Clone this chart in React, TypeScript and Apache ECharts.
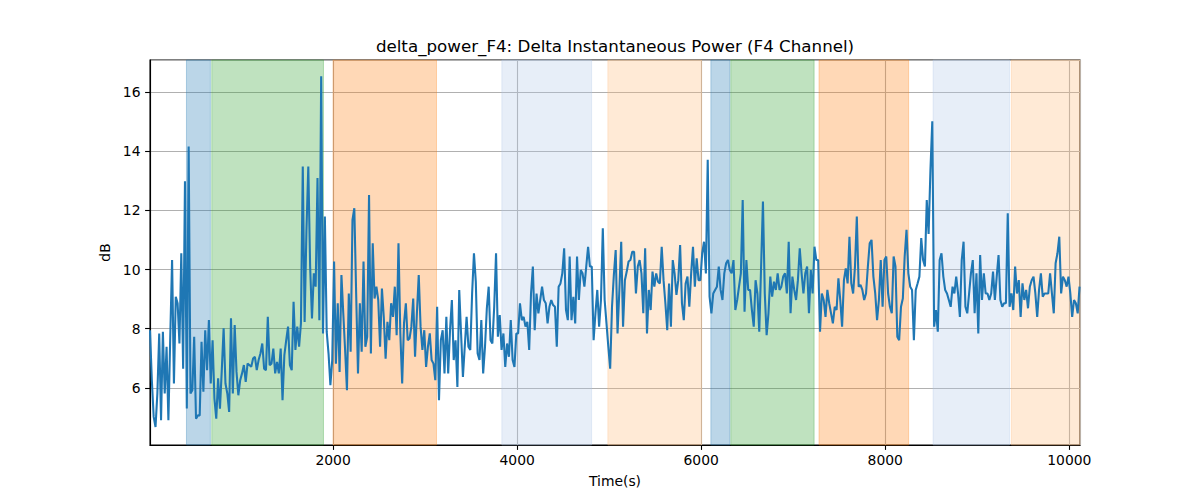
import React, { useEffect, useRef } from "react";
import * as echarts from "echarts";

const TITLE = "delta_power_F4: Delta Instantaneous Power (F4 Channel)";
const X_NAME = "Time(s)";
const Y_NAME = "dB";

const T_START = 11;
const T_STEP = 20;
const X_MIN = 11;
const X_MAX = 10116;
const Y_MIN = 4.07;
const Y_MAX = 17.08;

const seg1 = [
  7.95, 6.26, 5.02, 4.68, 5.81, 7.84, 4.91, 7.9, 5.81, 7.39,
  4.91, 7.73, 10.32, 6.15, 9.08, 8.86, 7.5, 10.55, 6.65, 12.98,
  5.3, 14.16, 5.81, 5.92, 7.73, 4.96, 5.07, 5.07, 7.56, 5.87,
  7.95, 6.6, 8.29, 6.15, 7.61, 5.64, 4.96, 6.32, 5.3, 6.6,
  8.01, 6.15, 5.81, 5.19, 8.35, 5.81, 8.12, 6.54, 5.75, 6.26,
  6.49, 6.77, 6.2, 6.82, 6.77, 6.71, 6.99, 7.05, 6.6, 6.94,
  7.16, 7.5, 6.65, 6.6, 8.4, 6.77, 6.82, 7.33, 6.49, 6.88,
  6.49, 7.33, 5.58, 7.11, 7.61, 8.07, 6.77, 6.6, 8.91, 7.28,
  8.07, 7.39, 8.18, 13.48, 8.23, 11.34, 13.48,
];
const seg2 = [
  10.1, 8.35, 9.87, 9.42, 13.09, 8.29, 16.53, 7.84, 11.79, 7.9,
  7.16, 6.09, 6.94, 10.27, 6.82, 8.86, 6.54, 9.81, 8.52, 7.28,
  5.92, 9.19, 7.22, 11.68, 12.07, 9.19, 6.49, 8.86, 7.22, 10.27,
  7.39, 7.73, 12.52, 7.16, 10.89, 9.02, 9.42, 8.97, 7.39, 9.36,
  8.4, 6.99, 8.23, 7.61, 8.86, 8.4, 9.42, 7.78, 10.89, 7.84,
  6.15, 8.18, 8.86, 7.61, 7.67, 8.07, 9.02, 7.05, 8.52, 9.81,
  8.07, 7.28, 7.95, 6.71, 7.39, 7.84, 6.94, 6.82, 6.26, 8.74,
  5.58, 7.61, 7.95, 6.49, 8.4, 6.49, 7.95, 8.97, 6.94, 7.61,
  6.03, 9.31, 7.84, 6.37, 7.39, 8.4, 7.39,
];
const seg3 = [
  7.28, 9.19, 10.55, 9.59, 7.16, 6.94, 8.29, 6.49, 7.39, 8.69,
  9.42, 7.61, 7.5, 8.74, 10.55, 7.73, 8.46, 7.28, 7.84, 6.71,
  7.5, 7.05, 8.29, 6.94, 6.71, 7.84, 7.84, 8.86, 8.29, 8.4,
  8.07, 8.23, 7.28, 9.19, 10.1, 7.95, 9.19, 8.52, 8.97, 9.42,
  8.97, 8.86, 8.18, 8.74, 8.97, 8.8, 8.74, 7.39, 9.42, 9.53,
  9.87, 10.72, 8.63, 8.29, 10.44, 8.29, 9.08, 8.18, 10.44, 8.97,
  9.98, 9.87, 9.42, 10.1, 10.77, 10.1, 10.1, 7.61, 8.52, 9.31,
  8.07, 8.97, 11.39, 8.97, 8.18, 7.39, 6.65, 8.74, 9.81, 10.66,
  7.84, 9.31, 10.94, 8.07, 9.64, 9.93, 10.27,
];
const seg4 = [
  10.32, 10.6, 10.6, 9.19, 10.1, 10.32, 9.87, 8.52, 10.72, 7.84,
  9.31, 8.63, 9.93, 9.42, 9.87, 9.59, 9.53, 10.77, 9.64, 8.86,
  7.95, 9.53, 8.07, 10.32, 9.87, 9.14, 9.64, 10.83, 8.86, 8.29,
  9.53, 9.76, 8.74, 9.87, 10.77, 9.42, 10.38, 9.64, 9.64, 10.55,
  10.94, 9.87, 13.71, 9.08, 8.52, 9.19, 9.31, 9.42, 10.1, 9.31,
  8.97, 9.87, 10.21, 10.32, 9.98, 9.87, 10.32, 8.63, 8.97, 9.42,
  9.87, 12.35, 8.57, 10.32, 9.31, 9.31, 8.63, 8.07, 9.64, 9.19,
  7.9, 10.1, 12.3, 9.19, 7.78, 8.52, 9.76, 9.08, 9.59, 9.31,
  9.87, 9.31, 9.42, 9.76, 9.87, 9.19, 10.94,
];
const seg5 = [
  8.52, 9.76, 9.31, 8.97, 9.64, 10.72, 9.87, 9.19, 9.87, 10.1,
  8.52, 9.98, 9.19, 10.77, 10.32, 10.32, 7.9, 9.19, 8.97, 8.4,
  9.31, 8.86, 8.52, 8.18, 8.74, 8.63, 9.7, 8.97, 8.07, 9.64,
  10.04, 9.53, 11.11, 9.53, 9.19, 10.1, 11.79, 9.42, 9.48, 9.31,
  8.97, 9.19, 10.1, 10.89, 11.0, 9.76, 9.19, 8.29, 8.97, 10.32,
  8.74, 10.32, 10.44, 9.19, 8.74, 8.52, 10.44, 10.1, 7.73, 7.61,
  8.74, 9.02, 10.44, 11.34, 9.87, 9.42, 9.31, 7.61, 9.31, 9.53,
  9.76, 11.06, 10.32, 10.1, 12.35, 11.2, 13.37, 15.01, 8.07, 8.63,
  7.9, 10.32, 10.55, 9.76, 9.31, 9.19, 8.97,
];
const seg6 = [
  8.74, 9.42, 9.19, 9.76, 9.19, 8.4, 10.32, 10.94, 8.74, 8.52,
  9.19, 9.87, 10.32, 8.52, 9.87, 7.84, 10.49, 8.97, 9.87, 9.19,
  9.19, 8.97, 9.19, 9.93, 8.97, 9.76, 10.49, 8.97, 8.74, 8.86,
  8.86, 11.9, 8.74, 9.19, 8.63, 10.1, 9.19, 9.64, 8.4, 9.53,
  8.97, 9.31, 8.69, 9.42, 9.64, 9.76, 9.19, 8.4, 9.31, 9.87,
  9.08, 9.19, 9.19, 9.19, 9.87, 9.19, 8.52, 10.21, 10.55, 11.11,
  9.19, 9.76, 9.64, 9.42, 9.76, 9.19, 8.4, 8.97, 8.86, 8.52,
  9.42,
];

const values = [...seg1, ...seg2, ...seg3, ...seg4, ...seg5, ...seg6];

const spansBlue = [[407, 667], [6105, 6312]];
const spansGreen = [[682, 1896], [6322, 7227]];
const spansOrange = [[2000, 3124], [7280, 8254]];
const spansLightBlue = [[3834, 4809], [8520, 9350]];
const spansLightOrange = [[4986, 6004], [9370, 10116]];

const FONT = "DejaVu Sans";

export default function App() {
  const ref = useRef<HTMLDivElement>(null);
  useEffect(() => {
    if (!ref.current) return;
    const chart = echarts.init(ref.current, undefined, { renderer: "svg" });
    const lineData = values.map((v, i) => [T_START + i * T_STEP, v]);
    const mk = (spans: number[][], color: string) =>
      spans.map(([a, b]) => [
        { xAxis: a, itemStyle: { color, borderColor: color, borderWidth: 1 } },
        { xAxis: b },
      ]);
    const areas = [
      ...mk(spansBlue, "rgba(31,119,180,0.3)"),
      ...mk(spansGreen, "rgba(44,160,44,0.3)"),
      ...mk(spansOrange, "rgba(255,127,14,0.3)"),
      ...mk(spansLightBlue, "rgba(174,199,232,0.3)"),
      ...mk(spansLightOrange, "rgba(255,187,120,0.3)"),
    ];
    const labelFmt = (step: number) => (v: number) =>
      Math.abs(v / step - Math.round(v / step)) < 1e-6 ? String(Math.round(v)) : "";
    chart.setOption({
      animation: false,
      backgroundColor: "#fff",
      title: {
        text: TITLE,
        left: 615,
        top: 37,
        padding: 0,
        textAlign: "center",
        textStyle: { fontFamily: FONT, fontSize: 16.7, fontWeight: "normal", color: "#000" },
      },
      grid: {
        left: 150,
        right: 120,
        top: 60,
        bottom: 55,
        show: true,
        borderColor: "#000",
        borderWidth: 1.1,
        backgroundColor: "transparent",
      },
      xAxis: {
        type: "value",
        min: X_MIN,
        max: X_MAX,
        splitNumber: 5,
        name: X_NAME,
        nameLocation: "middle",
        nameGap: 29,
        nameTextStyle: { fontFamily: FONT, fontSize: 13.9, color: "#000" },
        axisLine: { show: true, lineStyle: { color: "#000", width: 1.1 } },
        axisTick: { show: true, inside: false, length: 4.9, lineStyle: { color: "#000", width: 1.1 } },
        axisLabel: {
          margin: 8,
          fontFamily: FONT,
          fontSize: 13.9,
          color: "#000",
          showMinLabel: false,
          showMaxLabel: false,
          formatter: labelFmt(2000),
        },
        splitLine: { show: true, lineStyle: { color: "#b0b0b0", width: 1.1 } },
      },
      yAxis: {
        type: "value",
        min: Y_MIN,
        max: Y_MAX,
        splitNumber: 6,
        name: Y_NAME,
        nameLocation: "middle",
        nameGap: 34,
        nameRotate: 90,
        nameTextStyle: { fontFamily: FONT, fontSize: 13.9, color: "#000" },
        axisLine: { show: true, lineStyle: { color: "#000", width: 1.1 } },
        axisTick: { show: true, inside: false, length: 4.9, lineStyle: { color: "#000", width: 1.1 } },
        axisLabel: {
          margin: 9.5,
          fontFamily: FONT,
          fontSize: 13.9,
          color: "#000",
          showMinLabel: false,
          showMaxLabel: false,
          formatter: labelFmt(2),
        },
        splitLine: { show: true, lineStyle: { color: "#b0b0b0", width: 1.1 } },
      },
      series: [
        {
          type: "line",
          data: [],
          z: 1,
          silent: true,
          markArea: { silent: true, data: areas },
        },
        {
          type: "line",
          data: lineData,
          z: 3,
          showSymbol: false,
          symbol: "none",
          lineStyle: { color: "#1f77b4", width: 2.08 },
          itemStyle: { color: "#1f77b4" },
        },
      ],
    });
    return () => chart.dispose();
  }, []);
  return (
    <div
      ref={ref}
      style={{ position: "fixed", left: 0, top: 0, width: 1200, height: 500, background: "#fff" }}
    />
  );
}
